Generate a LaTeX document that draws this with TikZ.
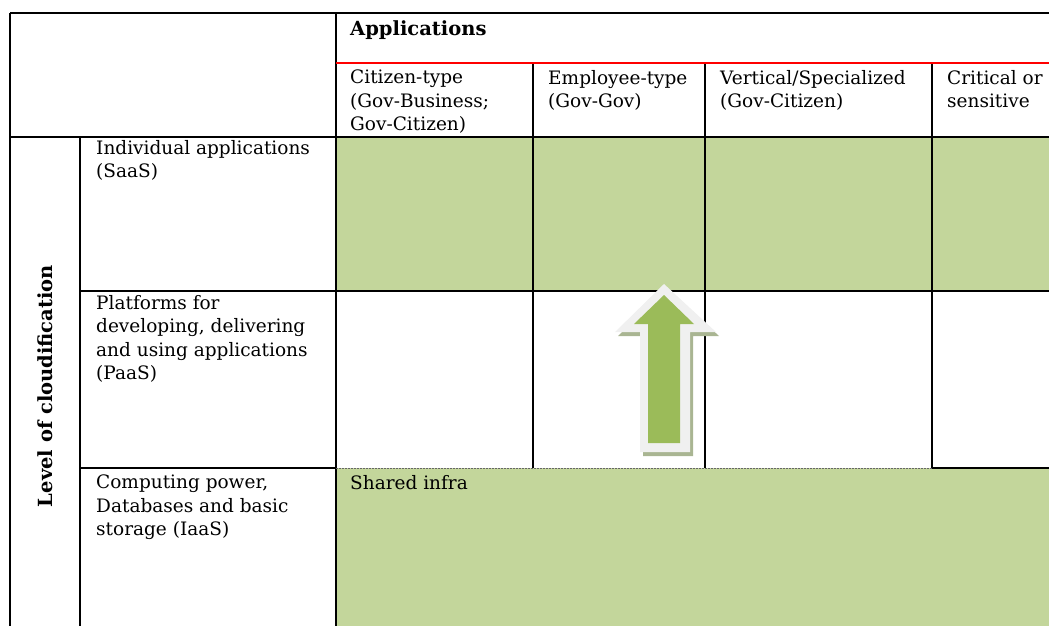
\documentclass[tikz,border=0pt]{standalone}
\usepackage{fontspec}
\setmainfont{DejaVu Serif}
\definecolor{cellgreen}{HTML}{C3D69B}
\definecolor{arrowgreen}{HTML}{9BBB59}
\definecolor{arrowwhite}{HTML}{F0F0F0}
\definecolor{arrowshadow}{HTML}{A9B592}
\begin{document}
\begin{tikzpicture}[x=1pt,y=-1pt,
  rule/.style={black,line width=1.6pt},
  cell/.style={anchor=north west,inner sep=0pt,align=left,font=\fontsize{18.5}{23.5}\selectfont},
  lbl/.style={cell}]
\useasboundingbox (0,0) rectangle (1049,626);
% fills
\fill[cellgreen] (336,137) rectangle (1049,291);
\fill[cellgreen] (336,468) rectangle (1049,626);
% rules
\draw[rule] (10,13) -- (1049,13);
\draw[rule] (10,13) -- (10,626);
\draw[rule] (336,13) -- (336,626);
\draw[rule] (80,137) -- (80,626);
\draw[rule] (10,137) -- (1049,137);
\draw[rule] (80,291) -- (1049,291);
\draw[rule] (80,468) -- (336,468);
\draw[rule] (932,468) -- (1049,468);
\draw[black!60,line width=1pt,dash pattern=on 2pt off 1pt] (336,468) -- (932,468);
\foreach \x in {533,705,932} \draw[rule] (\x,63) -- (\x,468);
\draw[red,line width=1.8pt] (336,63) -- (1049,63);
% arrow
\fill[arrowshadow] (667,288) -- (719,336) -- (693,336) -- (693,456) -- (643,456) -- (643,336) -- (618,336) -- cycle;
\fill[arrowwhite] (664,284) -- (716,332) -- (690,332) -- (690,452) -- (640,452) -- (640,332) -- (615,332) -- cycle;
\fill[arrowgreen] (664,295) -- (694,324) -- (680,324) -- (680,443) -- (648,443) -- (648,324) -- (634,324) -- cycle;
% texts
\node[cell,font=\fontsize{19.5}{23.5}\selectfont\bfseries] (apps) at (350,20) {Applications};
\node[cell] (c1) at (350,70) {Citizen-type\\(Gov-Business;\\Gov-Citizen)};
\node[cell] (c2) at (548,70) {Employee-type\\(Gov-Gov)};
\node[cell] (c3) at (720,70) {Vertical/Specialized\\(Gov-Citizen)};
\node[cell] (c4) at (947,70) {Critical or\\sensitive};
\node[cell] (r1) at (96,140) {Individual applications\\(SaaS)};
\node[cell] (r2) at (96,295) {Platforms for\\developing, delivering\\and using applications\\(PaaS)};
\node[cell] (r3) at (96,475) {Computing power,\\Databases and basic\\storage (IaaS)};
\node[cell] (shared) at (350,475) {Shared infra};
\node[inner sep=0pt,rotate=90,font=\fontsize{19.5}{22}\selectfont\bfseries] (level) at (45,386) {Level of cloudification};
\end{tikzpicture}
\end{document}
